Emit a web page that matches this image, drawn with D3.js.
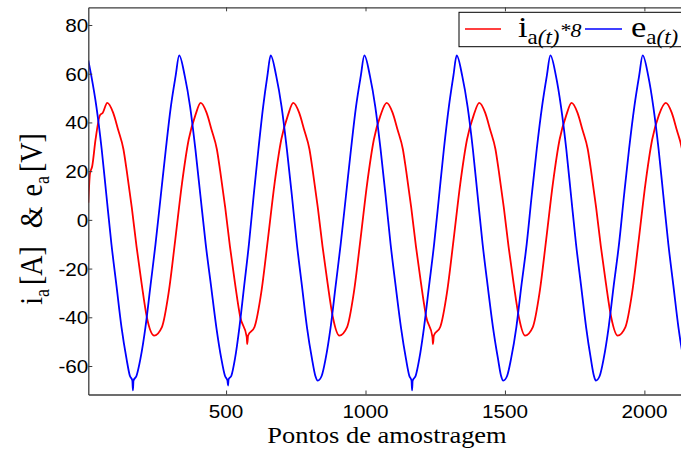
<!DOCTYPE html>
<html><head><meta charset="utf-8">
<script src="https://cdn.jsdelivr.net/npm/d3@7"></script>
<style>html,body{margin:0;padding:0;background:#fff;overflow:hidden}</style>
</head><body><svg id="c" width="681" height="452"></svg>
<script>
// ---- data ----
const xTicks = [500, 1000, 1500, 2000];
const yTicks = [-60, -40, -20, 0, 20, 40, 60, 80];
const xDomain = [6, 2160];
const yDomain = [-71.7, 87.27];
const xLabel = "Pontos de amostragem";
// red: i_a(t)*8
const currentSeries = [
[6,7],[12,19],[20,22],[32,33],[48,43],[58,44],[74,48],
[95,44],[113,37],[132,29],[144,20],[162,5],[179,-11],[197,-26],[216,-40],[242,-47.5],
[270,-44],[294,-30],[318,-8],[342,15],[366,33],[390,43],[409,48],
[430,44],[448,37],[467,29],[479,20],[497,5],[514,-11],[532,-26],[551,-40],[574,-48],[576,-51],[579,-47.5],
[602,-44],[626,-30],[650,-8],[674,15],[698,33],[722,43],[741,48],
[762,44],[780,37],[799,29],[811,20],[829,5],[846,-11],[864,-26],[883,-40],[906,-47.5],
[934,-44],[958,-30],[982,-8],[1006,15],[1030,33],[1054,43],[1076,48],
[1097,44],[1115,37],[1134,29],[1146,20],[1164,5],[1181,-11],[1199,-26],[1218,-40],[1240,-48],[1242,-51],[1245,-47.5],
[1268,-44],[1292,-30],[1316,-8],[1340,15],[1364,33],[1388,43],[1408,48],
[1429,44],[1447,37],[1466,29],[1478,20],[1496,5],[1513,-11],[1531,-26],[1550,-40],[1572,-47.5],
[1600,-44],[1624,-30],[1648,-8],[1672,15],[1696,33],[1720,43],[1739,48],
[1760,44],[1778,37],[1797,29],[1809,20],[1827,5],[1844,-11],[1862,-26],[1881,-40],[1904,-47.5],
[1932,-44],[1956,-30],[1980,-8],[2004,15],[2028,33],[2052,43],[2077,48],
[2098,44],[2116,37],[2135,29],[2147,20],[2160,8]
];
// blue: e_a(t)
const voltageSeries = [
[6,65.5],[17,59],[35,46.5],[54,29],[71,10],[89,-10],[107,-27],[125,-44],[143,-57],[155,-64],[164,-66],[166,-70],[168,-66],
[179,-64],[193,-57],[211,-44],[229,-27],[247,-10],[266,10],[284,29],[302,46.5],[319,59],[332,67.5],
[352,59],[371,46.5],[390,29],[408,10],[427,-10],[446,-27],[465,-44],[483,-57],[496,-64],[505,-66],[507,-68],[509,-65.5],
[519,-64],[532,-57],[548,-44],[565,-27],[582,-10],[599,10],[616,29],[633,46.5],[648,59],[660,67.5],
[680,59],[699,46.5],[718,29],[736,10],[754,-10],[772,-27],[790,-44],[808,-57],[820,-64],[829,-66],
[843,-64],[857,-57],[875,-44],[893,-27],[911,-10],[930,10],[948,29],[966,46.5],[983,59],[996,67.5],
[1016,59],[1035,46.5],[1054,29],[1072,10],[1090,-10],[1108,-27],[1127,-44],[1145,-57],[1157,-64],[1165,-66],[1167,-70],[1169,-66],
[1180,-64],[1193,-57],[1210,-44],[1228,-27],[1246,-10],[1264,10],[1281,29],[1299,46.5],[1315,59],[1327,67.5],
[1347,59],[1366,46.5],[1385,29],[1402,10],[1420,-10],[1438,-27],[1457,-44],[1475,-57],[1486,-64],[1494,-66],
[1508,-64],[1522,-57],[1541,-44],[1559,-27],[1578,-10],[1596,10],[1614,29],[1633,46.5],[1650,59],[1663,67.5],
[1683,59],[1701,46.5],[1720,29],[1737,10],[1755,-10],[1773,-27],[1791,-44],[1808,-57],[1819,-64],[1826,-66],
[1840,-64],[1854,-57],[1872,-44],[1890,-27],[1909,-10],[1927,10],[1945,29],[1964,46.5],[1981,59],[1994,67.5],
[2014,59],[2032,46.5],[2051,29],[2068,10],[2086,-10],[2104,-27],[2122,-44],[2140,-57],[2154,-64]
];

// ---- layout ----
const M = {left: 88.3, top: 7.3, right: 689, bottom: 394.5};
const SX = 1.15;
const AX = "#3c3c3c";
const sans = "'Liberation Sans', Arial, sans-serif";
const serif = "'Liberation Serif', 'Times New Roman', serif";

const x = d3.scaleLinear().domain(xDomain).range([M.left, M.right]);
const y = d3.scaleLinear().domain(yDomain).range([M.bottom, M.top]);
const svg = d3.select("#c");

svg.append("defs").append("clipPath").attr("id","clip")
  .append("rect").attr("x",M.left).attr("y",M.top).attr("width",M.right-M.left).attr("height",M.bottom-M.top);

const line = d3.line().x(d => x(d[0])).y(d => y(d[1])).curve(d3.curveMonotoneX);
const plot = svg.append("g").attr("clip-path","url(#clip)");
plot.append("path").datum(currentSeries).attr("d", line)
  .attr("fill","none").attr("stroke","#ff0000").attr("stroke-width",1.8).attr("stroke-linejoin","round");
plot.append("path").datum(voltageSeries).attr("d", line)
  .attr("fill","none").attr("stroke","#0000ff").attr("stroke-width",1.8).attr("stroke-linejoin","round");

// axes (ticks inside)
function styleAxis(g){
  g.selectAll("path.domain").attr("stroke",AX).attr("stroke-width",1.3);
  g.selectAll(".tick line").attr("stroke",AX).attr("stroke-width",1);
  g.selectAll(".tick text").remove();
}
svg.append("g").attr("transform",`translate(0,${M.bottom})`)
  .call(d3.axisBottom(x).tickValues(xTicks).tickSize(-4).tickSizeOuter(0).tickFormat(""))
  .call(styleAxis);
svg.append("g").attr("transform",`translate(0,${M.top})`)
  .call(d3.axisTop(x).tickValues(xTicks).tickSize(-4).tickSizeOuter(0).tickFormat(""))
  .call(styleAxis);
svg.append("g").attr("transform",`translate(${M.left},0)`)
  .call(d3.axisLeft(y).tickValues(yTicks).tickSize(-4).tickSizeOuter(0).tickFormat(""))
  .call(styleAxis);

// tick labels
svg.append("g").selectAll("text").data(xTicks).join("text")
  .attr("transform", d => `translate(${x(d)},417.5) scale(${SX},1)`)
  .attr("text-anchor","middle").style("font-family",sans).style("font-size","18px").attr("fill","#000")
  .text(d => d);
svg.append("g").selectAll("text").data(yTicks).join("text")
  .attr("transform", d => `translate(${M.left},${y(d)+7}) scale(${SX},1)`)
  .attr("text-anchor","end").style("font-family",sans).style("font-size","18px").attr("fill","#000")
  .text(d => d);

// x label
svg.append("text").attr("transform",`translate(387,443) scale(${SX},1)`)
  .attr("text-anchor","middle").style("font-family",serif).style("font-size","23px").attr("fill","#000")
  .text(xLabel);

// y label
const yl = svg.append("text").attr("transform",`translate(42,219) scale(${SX},1) rotate(-90)`)
  .attr("text-anchor","middle").style("font-family",serif).style("font-size","28px").attr("fill","#000");
yl.append("tspan").text("i");
yl.append("tspan").attr("dy",6).style("font-size","18px").text("a");
yl.append("tspan").attr("dy",-6).attr("dx",4).text("[A]");
yl.append("tspan").attr("dx",18).text("&");
yl.append("tspan").attr("dx",10).text("e");
yl.append("tspan").attr("dy",6).style("font-size","18px").text("a");
yl.append("tspan").attr("dy",-6).attr("dx",4).text("[V]");

// legend
const lg = svg.append("g");
lg.append("rect").attr("x",459).attr("y",12.3).attr("width",260).attr("height",34.4)
  .attr("fill","#fff").attr("stroke","#000").attr("stroke-width",1);
lg.append("line").attr("x1",465).attr("x2",501).attr("y1",29).attr("y2",29).attr("stroke","#ff0000").attr("stroke-width",1.6);
lg.append("line").attr("x1",585).attr("x2",622).attr("y1",29).attr("y2",29).attr("stroke","#0000ff").attr("stroke-width",1.6);
const t1 = lg.append("text").attr("transform",`translate(518,37) scale(${SX},1)`)
  .style("font-family",serif).style("font-size","30px").attr("fill","#000");
t1.append("tspan").text("i");
t1.append("tspan").attr("dy",7).style("font-size","20px").text("a");
t1.append("tspan").style("font-size","20px").style("font-style","italic").text("(t)");
t1.append("tspan").attr("dy",-7).style("font-size","19px").style("font-style","italic").text("*8");
const t2 = lg.append("text").attr("transform",`translate(631,37) scale(${SX},1)`)
  .style("font-family",serif).style("font-size","30px").attr("fill","#000");
t2.append("tspan").text("e");
t2.append("tspan").attr("dy",7).style("font-size","20px").text("a");
t2.append("tspan").style("font-size","20px").style("font-style","italic").text("(t)");
</script></body></html>
